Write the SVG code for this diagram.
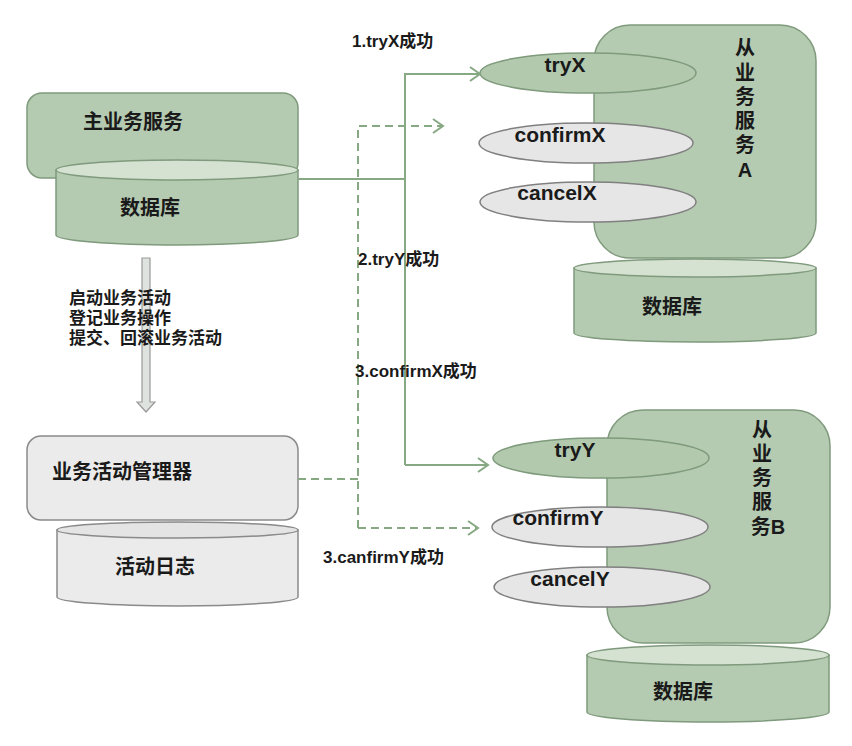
<svg xmlns="http://www.w3.org/2000/svg" width="852" height="746" viewBox="0 0 852 746">
<defs>
<style>
text{font-family:"Liberation Sans","Noto Sans CJK SC",sans-serif;font-weight:bold;fill:#1a1a1a}
.cn{font-size:20px}
.op{font-size:21px;text-anchor:middle}
.lbl{font-size:17px}
.small{font-size:17px}
.gbox{fill:#b5cbb1;stroke:#7f9a7c;stroke-width:1.5}
.gtop{fill:#d5e2d2;stroke:#7f9a7c;stroke-width:1.5}
.ybox{fill:#ebebeb;stroke:#8a8a8a;stroke-width:1.5}
.ytop{fill:#e4e4e4;stroke:#8a8a8a;stroke-width:1.5}
.gell{fill:#b2c9ae;stroke:#7f9a7c;stroke-width:1.5}
.yell{fill:#e6e6e6;stroke:#808080;stroke-width:1.5}
.conn{fill:none;stroke:#86a883;stroke-width:2}
.dash{stroke-dasharray:8 5}
</style>
<marker id="arr" markerWidth="14" markerHeight="16" refX="12" refY="8" orient="auto" markerUnits="userSpaceOnUse">
<path d="M2,1 L12,8 L2,15" fill="none" stroke="#86a883" stroke-width="2"/>
</marker>
</defs>

<g id="main-service">
<rect class="gbox" x="27" y="93" width="271" height="85" rx="15"/>
<text class="cn" x="83" y="129">主业务服务</text>
</g>
<g id="main-db">
<path class="gbox" d="M56,170 L56,235 A121,10 0 0 0 298,235 L298,170 Z"/>
<ellipse class="gtop" cx="177" cy="170" rx="121" ry="10"/>
<text class="cn" x="120" y="215">数据库</text>
</g>

<g id="flow-arrow">
<path d="M142,258 L150,258 L150,402 L155,402 L146,412 L137,402 L142,402 Z" fill="#dfe3df" stroke="#999" stroke-width="1.2"/>
<text class="small" x="69" y="304">启动业务活动</text>
<text class="small" x="69" y="324">登记业务操作</text>
<text class="small" x="69" y="344">提交、回滚业务活动</text>
</g>

<g id="manager">
<rect class="ybox" x="27" y="436" width="271" height="84" rx="14"/>
<text class="cn" x="52" y="479">业务活动管理器</text>
</g>
<g id="activity-log">
<path class="ybox" d="M57,530 L57,597 A120.5,9 0 0 0 298,597 L298,530 Z"/>
<ellipse class="ytop" cx="177.5" cy="530" rx="120.5" ry="8"/>
<text class="cn" x="115" y="574">活动日志</text>
</g>

<g id="service-a">
<rect class="gbox" x="594" y="25" width="222" height="233" rx="36"/>
<text class="cn" x="745" y="55" text-anchor="middle">从</text>
<text class="cn" x="745" y="80" text-anchor="middle">业</text>
<text class="cn" x="745" y="104" text-anchor="middle">务</text>
<text class="cn" x="745" y="128" text-anchor="middle">服</text>
<text class="cn" x="745" y="152" text-anchor="middle">务</text>
<text class="cn" x="745" y="177" text-anchor="middle">A</text>
</g>
<g id="tryX">
<ellipse class="gell" cx="588" cy="73" rx="108" ry="20"/>
<text class="op" x="565" y="72">tryX</text>
</g>
<g id="confirmX">
<ellipse class="yell" cx="586" cy="143" rx="107" ry="20"/>
<text class="op" x="560" y="142">confirmX</text>
</g>
<g id="cancelX">
<ellipse class="yell" cx="588" cy="202" rx="108" ry="20"/>
<text class="op" x="557" y="200">cancelX</text>
</g>
<g id="db-a">
<path class="gbox" d="M574,268 L574,333 A121,9 0 0 0 816,333 L816,268 Z"/>
<ellipse class="gtop" cx="695" cy="268" rx="121" ry="9"/>
<text class="cn" x="672" y="314" text-anchor="middle">数据库</text>
</g>

<g id="service-b">
<rect class="gbox" x="607" y="410" width="223" height="233" rx="36"/>
<text class="cn" x="762" y="437" text-anchor="middle">从</text>
<text class="cn" x="762" y="461" text-anchor="middle">业</text>
<text class="cn" x="762" y="485" text-anchor="middle">务</text>
<text class="cn" x="762" y="509" text-anchor="middle">服</text>
<text class="cn" x="768" y="534" text-anchor="middle">务B</text>
</g>
<g id="tryY">
<ellipse class="gell" cx="601" cy="458" rx="108" ry="20"/>
<text class="op" x="575" y="457">tryY</text>
</g>
<g id="confirmY">
<ellipse class="yell" cx="600" cy="527" rx="108" ry="20"/>
<text class="op" x="558" y="525">confirmY</text>
</g>
<g id="cancelY">
<ellipse class="yell" cx="602" cy="587" rx="108" ry="20"/>
<text class="op" x="570" y="586">cancelY</text>
</g>
<g id="db-b">
<path class="gbox" d="M587,655 L587,712 A121,10 0 0 0 829,712 L829,655 Z"/>
<ellipse class="gtop" cx="708" cy="655" rx="121" ry="10"/>
<text class="cn" x="683" y="699" text-anchor="middle">数据库</text>
</g>

<g id="connectors">
<path class="conn" d="M298,179 L405,179"/>
<path class="conn" d="M405,465 L405,74 L480,74" marker-end="url(#arr)"/>
<path class="conn" d="M405,465 L488,465" marker-end="url(#arr)"/>
<path class="conn dash" d="M298,479 L358,479"/>
<path class="conn dash" d="M358,528 L358,126 L443,126" marker-end="url(#arr)"/>
<path class="conn dash" d="M358,528 L478,528" marker-end="url(#arr)"/>
</g>

<g id="labels">
<text class="lbl" x="352" y="47">1.tryX成功</text>
<text class="lbl" x="358" y="265">2.tryY成功</text>
<text class="lbl" x="355" y="377">3.confirmX成功</text>
<text class="lbl" x="323" y="563">3.canfirmY成功</text>
</g>
</svg>
